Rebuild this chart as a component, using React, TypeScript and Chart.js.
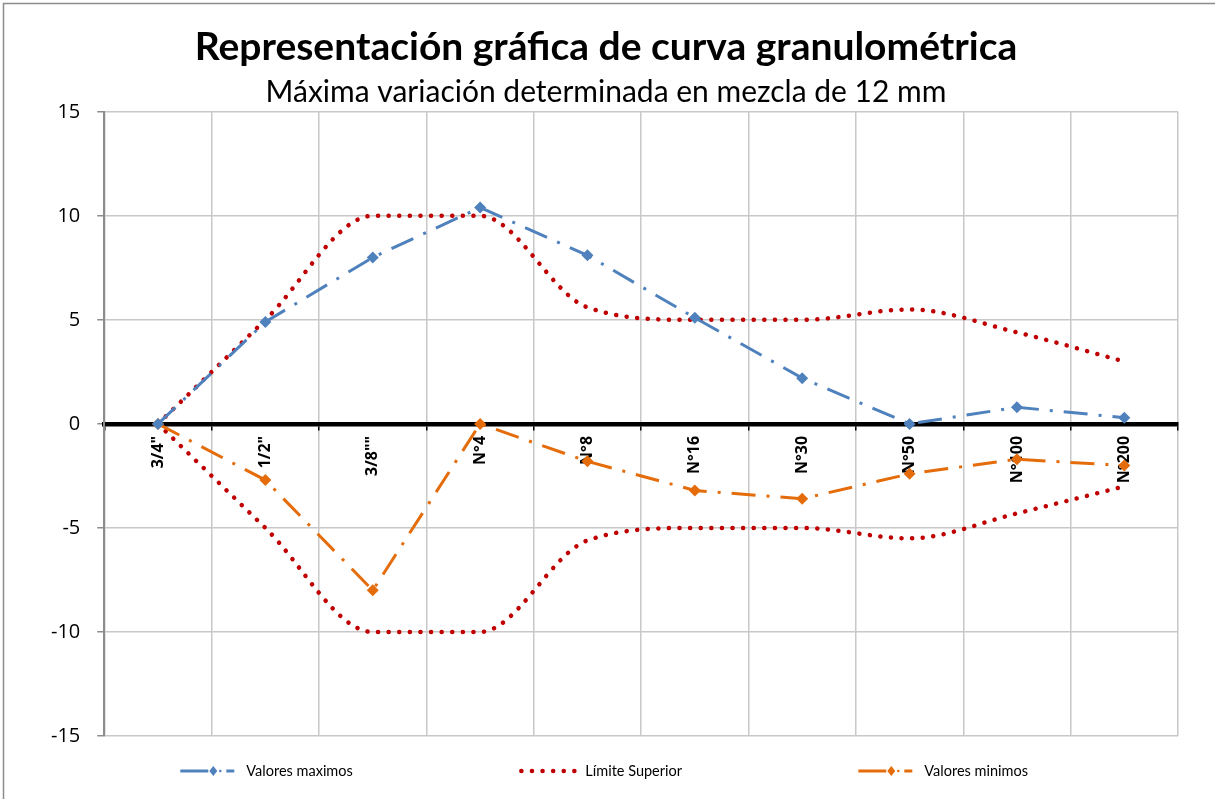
import React, { useEffect, useRef } from 'react';
import { Chart, registerables } from 'chart.js';

Chart.register(...registerables);

const categories = ['3/4"', '1/2"', '3/8""', 'N°4', 'N°8', 'N°16', 'N°30', 'N°50', 'N°100', 'N°200'];
const valoresMaximos = [0, 4.9, 8.0, 10.4, 8.1, 5.1, 2.2, 0, 0.8, 0.3];
const limiteSuperior = [0, 5, 10, 10, 5.6, 5, 5, 5.5, 4.4, 3];
const limiteInferior = [0, -5, -10, -10, -5.6, -5, -5, -5.5, -4.3, -3];
const valoresMinimos = [0, -2.7, -8, 0, -1.8, -3.2, -3.6, -2.4, -1.7, -2.0];
const yMin = -15;
const yMax = 15;
const yStep = 5;

const titleText = 'Representación gráfica de curva granulométrica';
const subtitleText = 'Máxima variación determinada en mezcla de 12 mm';

const BLUE = '#4F81BD';
const RED = '#C00000';
const ORANGE = '#E46C0A';
const DASH_DOT = [24, 11, 3, 11];
const DOTS = [0.1, 10.5];

const legendItems = [
  { text: 'Valores maximos', color: BLUE, dash: DASH_DOT, marker: true, width: 3, cap: 'butt' },
  { text: 'Límite Superior', color: RED, dash: DOTS, marker: false, width: 4.5, cap: 'round' },
  { text: 'Valores minimos', color: ORANGE, dash: DASH_DOT, marker: true, width: 3, cap: 'butt' },
];

const framePlugin = {
  id: 'frame',
  beforeDraw(chart: any) {
    const { ctx, width, height } = chart;
    ctx.save();
    ctx.fillStyle = '#fff';
    ctx.fillRect(0, 0, width, height);
    ctx.strokeStyle = '#8c8c8c';
    ctx.lineWidth = 1.5;
    ctx.strokeRect(3.5, 3.5, width + 20, height + 20);
    ctx.restore();
  },
};

const legendPlugin = {
  id: 'customLegend',
  afterDraw(chart: any) {
    const { ctx, chartArea } = chart;
    const y = chart.height - 28;
    ctx.save();
    legendItems.forEach((it, i) => {
      const x0 = chartArea.left + 76 + i * 339;
      const len = 60;
      ctx.strokeStyle = it.color;
      ctx.lineWidth = it.width;
      ctx.lineCap = it.cap;
      if (it.marker) {
        ctx.setLineDash([]);
        ctx.beginPath();
        ctx.moveTo(x0, y);
        ctx.lineTo(x0 + 28, y);
        ctx.stroke();
        ctx.beginPath();
        ctx.arc(x0 + 40, y, 1.3, 0, Math.PI * 2);
        ctx.fillStyle = it.color;
        ctx.fill();
        ctx.beginPath();
        ctx.moveTo(x0 + 46, y);
        ctx.lineTo(x0 + len - 6, y);
        ctx.stroke();
        ctx.beginPath();
        ctx.moveTo(x0 + 33, y - 5);
        ctx.lineTo(x0 + 37, y);
        ctx.lineTo(x0 + 33, y + 5);
        ctx.lineTo(x0 + 29, y);
        ctx.closePath();
        ctx.fill();
      } else {
        ctx.setLineDash(it.dash);
        ctx.beginPath();
        ctx.moveTo(x0 + 2, y);
        ctx.lineTo(x0 + len, y);
        ctx.stroke();
      }
      ctx.setLineDash([]);
      ctx.fillStyle = '#000';
      ctx.font = '14.5px Lato';
      ctx.textBaseline = 'middle';
      ctx.textAlign = 'left';
      ctx.fillText(it.text, x0 + len + 6, y);
    });
    ctx.restore();
  },
};

export default function App() {
  const canvasRef = useRef<HTMLCanvasElement | null>(null);

  useEffect(() => {
    document.body.style.margin = '0';
    const canvas = canvasRef.current;
    if (!canvas) return;
    const lineBase = {
      borderWidth: 3,
      fill: false,
      tension: 0,
    };
    const chart = new Chart(canvas, {
      type: 'line',
      data: {
        labels: categories,
        datasets: [
          {
            label: 'Valores maximos',
            data: valoresMaximos,
            ...lineBase,
            borderColor: BLUE,
            backgroundColor: BLUE,
            borderDash: DASH_DOT,
            pointStyle: 'rectRot',
            pointRadius: 6,
            pointBorderWidth: 0,
          },
          {
            label: 'Límite Superior',
            data: limiteSuperior,
            ...lineBase,
            borderWidth: 4.5,
            borderColor: RED,
            backgroundColor: RED,
            borderDash: DOTS,
            borderCapStyle: 'round',
            cubicInterpolationMode: 'monotone',
            pointRadius: 0,
          },
          {
            label: 'Valores minimos',
            data: valoresMinimos,
            ...lineBase,
            borderColor: ORANGE,
            backgroundColor: ORANGE,
            borderDash: DASH_DOT,
            pointStyle: 'rectRot',
            pointRadius: 6,
            pointBorderWidth: 0,
          },
          {
            label: 'Límite Inferior',
            data: limiteInferior,
            ...lineBase,
            borderWidth: 4.5,
            borderColor: RED,
            backgroundColor: RED,
            borderDash: DOTS,
            borderCapStyle: 'round',
            cubicInterpolationMode: 'monotone',
            pointRadius: 0,
          },
        ],
      } as any,
      plugins: [framePlugin, legendPlugin],
      options: {
        responsive: false,
        animation: false,
        layout: { padding: { top: 0, left: 34, right: 37, bottom: 63 } },
        plugins: {
          legend: { display: false },
          tooltip: { enabled: false },
          title: {
            display: true,
            text: titleText,
            color: '#000',
            font: { family: 'Lato', size: 39, weight: 'bold' },
            padding: { top: 24, bottom: 0 },
          },
          subtitle: {
            display: true,
            text: subtitleText,
            color: '#000',
            font: { family: 'Lato', size: 30, weight: 'normal' },
            padding: { top: 4, bottom: 1 },
          },
        },
        scales: {
          x: {
            type: 'category',
            position: { y: 0 },
            offset: true,
            grid: {
              offset: true,
              color: '#c8c8c8',
              lineWidth: 1.5,
              tickColor: '#000',
              tickLength: 4,
              drawOnChartArea: true,
            },
            border: { color: '#000', width: 4.5 },
            ticks: {
              autoSkip: false,
              minRotation: 90,
              maxRotation: 90,
              padding: 8,
              color: '#000',
              font: { family: 'Open Sans', size: 16, weight: 'bold' },
            },
          },
          y: {
            min: yMin,
            max: yMax,
            grid: {
              color: '#c8c8c8',
              lineWidth: 1.5,
              tickColor: '#8c8c8c',
              tickLength: 7,
            },
            border: { color: '#8c8c8c', width: 2 },
            ticks: {
              stepSize: yStep,
              padding: 17,
              color: '#000',
              font: { family: 'Open Sans', size: 20 },
            },
          },
        },
      } as any,
    });
    return () => chart.destroy();
  }, []);

  return (
    <div style={{ width: 1215, height: 799 }}>
      <canvas ref={canvasRef} width={1215} height={799} style={{ display: 'block' }} />
    </div>
  );
}
